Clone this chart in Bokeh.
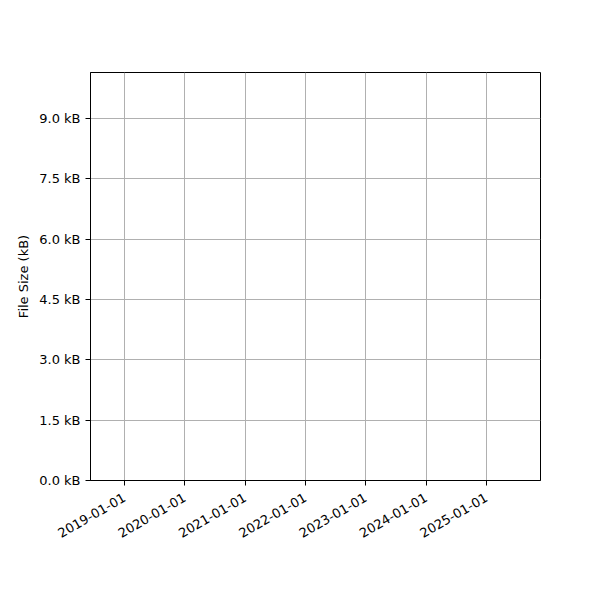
import math
from datetime import datetime

from bokeh.plotting import figure
from bokeh.models import (FixedTicker, DatetimeTickFormatter, PrintfTickFormatter,
                          Range1d, ColumnDataSource)
from bokeh.embed import file_html
from bokeh.resources import INLINE

# the chart has no data points, only the axes
dates = []
sizes_kb = []

year_ticks = [datetime(y, 1, 1) for y in range(2019, 2026)]
size_ticks = [0.0, 1.5, 3.0, 4.5, 6.0, 7.5, 9.0]

x_start = datetime(2018, 6, 9)
x_end = datetime(2025, 11, 24)
y_start = 0.0
y_end = 10.14


def to_ms(d):
    return (d - datetime(1970, 1, 1)).total_seconds() * 1000.0


p = figure(x_axis_type="datetime", frame_width=450, frame_height=408,
           min_border_left=90, min_border_right=50, min_border_top=72,
           min_border_bottom=110, output_backend="svg", toolbar_location=None,
           x_range=Range1d(to_ms(x_start), to_ms(x_end)),
           y_range=Range1d(y_start, y_end))

source = ColumnDataSource(data=dict(date=dates, size=sizes_kb))
p.line("date", "size", source=source, color="#1f77b4")

p.xaxis.ticker = FixedTicker(ticks=[to_ms(d) for d in year_ticks])
fmt = "%Y-%m-%d"
p.xaxis.formatter = DatetimeTickFormatter(years=fmt, months=fmt, days=fmt)
p.xaxis.major_label_orientation = math.pi / 6
p.xaxis.major_label_standoff = 11

p.yaxis.ticker = FixedTicker(ticks=size_ticks)
p.yaxis.formatter = PrintfTickFormatter(format="%.1f kB")
p.yaxis.axis_label = "File Size (kB)"
p.yaxis.axis_label_text_color = "black"

for ax in p.axis:
    ax.major_label_text_font = "DejaVu Sans"
    ax.major_label_text_font_size = "13px"
    ax.major_label_text_color = "black"
    ax.axis_label_text_font = "DejaVu Sans"
    ax.axis_label_text_font_size = "13px"
    ax.axis_label_text_font_style = "normal"
    ax.axis_line_color = "black"
    ax.major_tick_line_color = "black"
    ax.major_tick_out = 5
    ax.major_tick_in = 0
    ax.minor_tick_line_color = None

p.grid.grid_line_color = "#b0b0b0"
p.grid.grid_line_width = 1
p.outline_line_color = "black"
p.outline_line_alpha = 1
p.background_fill_color = "white"
p.border_fill_color = "white"

open("out.html", "w").write(file_html(p, INLINE))
